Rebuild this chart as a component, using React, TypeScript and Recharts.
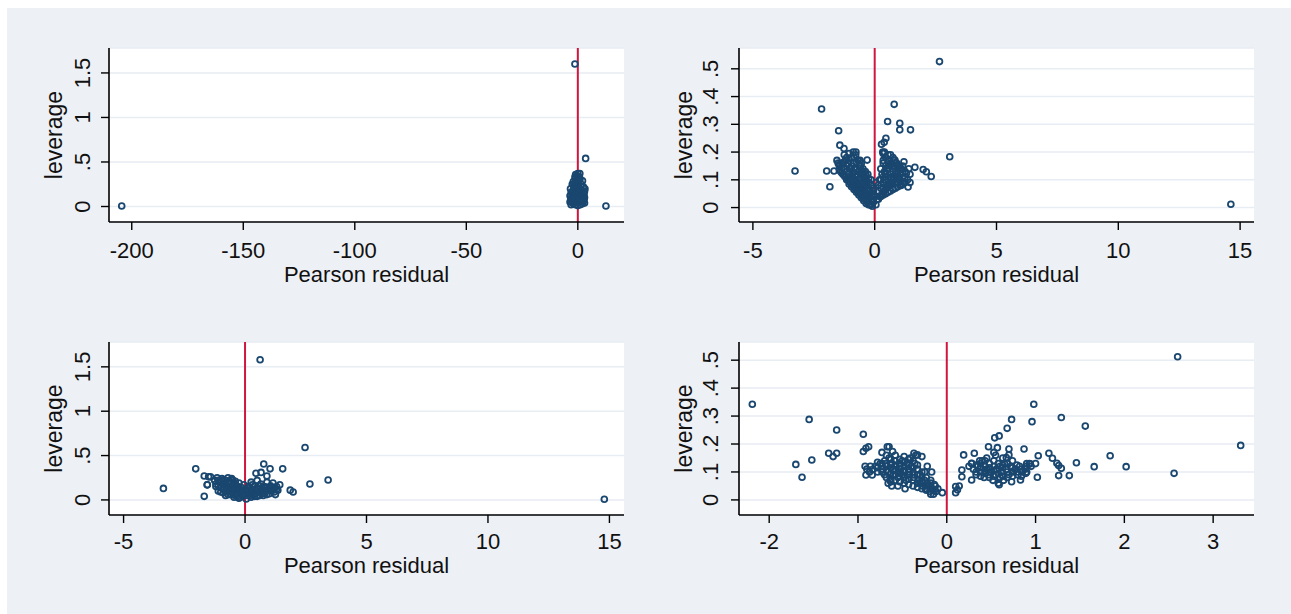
import React from 'react';
import { ScatterChart, Scatter, XAxis, YAxis, CartesianGrid, ReferenceLine } from 'recharts';

// Pearson residual vs leverage, four models (dense clusters are overplotted)
const panel1Points: [number, number][] = [
  [-204.5, 0.005], [-1.3, 1.6], [3.5, 0.54], [12.6, 0.005],
  [-3.5, 0.05], [-3.5, 0.12], [-3.3, 0.2], [-3, 0.02], [-3, 0.09], [-3, 0.16],
  [-2.5, 0.25], [-2.5, 0.06], [-2.2, 0.12], [-2, 0.03], [-2, 0.19], [-2, 0.28],
  [-1.5, 0.09], [-1.5, 0.15], [-1.3, 0.33], [-1, 0.02], [-1, 0.22], [-1, 0.36],
  [-0.5, 0.07], [-0.5, 0.12], [-0.5, 0.3], [0, 0.01], [0, 0.17], [0, 0.26], [0, 0.37],
  [0.5, 0.1], [0.5, 0.05], [0.5, 0.21], [1, 0.02], [1, 0.14], [1, 0.31], [0.9, 0.37],
  [1.5, 0.08], [1.5, 0.25], [2, 0.03], [2, 0.18], [2, 0.11], [2.1, 0.29],
  [2.5, 0.06], [2.5, 0.22], [2.8, 0.14], [3, 0.04], [3, 0.1], [3, 0.17], [3.2, 0.2],
  [-2.5, 0.14], [-2, 0.09], [-1.5, 0.04], [-1.5, 0.22], [-1, 0.12], [-1, 0.28], [-0.5, 0.18],
  [-0.5, 0.24], [0, 0.07], [0, 0.12], [0.5, 0.15], [0.5, 0.3], [1, 0.08], [1, 0.2], [1.5, 0.14],
  [1.5, 0.17], [2, 0.07], [2.5, 0.12], [-2.8, 0.1], [-3.2, 0.08], [2.8, 0.08], [0.3, 0.34],
  [-0.3, 0.33], [-1.8, 0.25],
];

const panel2Points: [number, number][] = [
  [2.66, 0.526], [14.62, 0.012], [-3.27, 0.132], [-2.18, 0.355], [0.8, 0.372],
  [0.53, 0.31], [1.03, 0.304], [1.03, 0.28], [1.47, 0.28], [-1.48, 0.277],
  [0.46, 0.25], [0.39, 0.235], [0.28, 0.228], [-1.43, 0.225], [-1.26, 0.213],
  [3.08, 0.183], [-1.97, 0.132], [-1.67, 0.132], [-1.84, 0.075],
  [2.32, 0.112], [2.12, 0.129], [1.99, 0.137], [1.65, 0.145],
  [-1.55, 0.17], [-1.5, 0.16], [-1.45, 0.15], [-1.4, 0.13], [-1.35, 0.16], [-1.3, 0.12],
  [-1.25, 0.14], [-1.2, 0.11], [-1.15, 0.13], [-1.1, 0.1], [-1.1, 0.16], [-1.05, 0.12],
  [-1.0, 0.09], [-1.0, 0.14], [-0.95, 0.18], [-0.95, 0.11], [-0.9, 0.08], [-0.9, 0.13],
  [-0.88, 0.2], [-0.85, 0.1], [-0.85, 0.16], [-0.8, 0.07], [-0.8, 0.12], [-0.78, 0.19],
  [-0.75, 0.09], [-0.75, 0.14], [-0.7, 0.06], [-0.7, 0.11], [-0.68, 0.17], [-0.65, 0.08],
  [-0.65, 0.13], [-0.6, 0.05], [-0.6, 0.1], [-0.58, 0.15], [-0.55, 0.07], [-0.55, 0.12],
  [-0.5, 0.04], [-0.5, 0.09], [-0.48, 0.14], [-0.45, 0.06], [-0.45, 0.11], [-0.4, 0.03],
  [-0.4, 0.08], [-0.38, 0.13], [-0.35, 0.05], [-0.35, 0.1], [-0.3, 0.02], [-0.3, 0.07],
  [-0.28, 0.12], [-0.25, 0.04], [-0.25, 0.09], [-0.2, 0.01], [-0.2, 0.06], [-0.15, 0.03],
  [-0.15, 0.08], [-0.1, 0.005], [-0.1, 0.05], [-0.05, 0.02], [-0.05, 0.07], [0.0, 0.04],
  [0.05, 0.01], [0.05, 0.09], [-0.77, 0.2], [-0.31, 0.171], [-0.6, 0.17], [-1.2, 0.17],
  [0.1, 0.03], [0.15, 0.06], [0.2, 0.04], [0.2, 0.1], [0.25, 0.07], [0.3, 0.05], [0.3, 0.12],
  [0.35, 0.09], [0.35, 0.16], [0.4, 0.06], [0.4, 0.13], [0.45, 0.1], [0.45, 0.18], [0.5, 0.07],
  [0.5, 0.14], [0.55, 0.11], [0.55, 0.17], [0.6, 0.08], [0.6, 0.15], [0.65, 0.12], [0.65, 0.19],
  [0.7, 0.09], [0.7, 0.16], [0.75, 0.13], [0.8, 0.1], [0.8, 0.17], [0.85, 0.14], [0.9, 0.11],
  [0.9, 0.16], [0.95, 0.13], [1.0, 0.1], [1.0, 0.15], [1.05, 0.12], [1.1, 0.14], [1.15, 0.11],
  [1.2, 0.165], [1.25, 0.13], [1.3, 0.123], [1.35, 0.1], [1.37, 0.074], [1.4, 0.14], [1.1, 0.08],
  [0.83, 0.171], [0.35, 0.195], [0.33, 0.2], [0.4, 0.2], [0.95, 0.09], [0.75, 0.07], [1.2, 0.09],
  [-1.45, 0.135], [-1.45, 0.155], [-1.35, 0.125], [-1.35, 0.145], [-1.25, 0.115], [-1.25, 0.165],
  [-1.25, 0.19], [-1.15, 0.1], [-1.15, 0.15], [-1.15, 0.18], [-1.05, 0.085], [-1.05, 0.105],
  [-1.05, 0.175], [-1.05, 0.195], [-0.95, 0.075], [-0.95, 0.095], [-0.95, 0.15], [-0.85, 0.065],
  [-0.85, 0.085], [-0.85, 0.14], [-0.85, 0.18], [-0.75, 0.055], [-0.75, 0.075], [-0.75, 0.115],
  [-0.75, 0.165], [-0.65, 0.045], [-0.65, 0.1], [-0.65, 0.15], [-0.55, 0.035], [-0.55, 0.055],
  [-0.55, 0.085], [-0.55, 0.135], [-0.55, 0.16], [-0.45, 0.025], [-0.45, 0.045], [-0.45, 0.075],
  [-0.45, 0.125], [-0.35, 0.015], [-0.35, 0.035], [-0.35, 0.085], [-0.35, 0.115], [-0.25, 0.01],
  [-0.25, 0.025], [-0.25, 0.065], [-0.25, 0.105], [-0.15, 0.01], [-0.15, 0.055], [-0.15, 0.1],
  [-0.05, 0.03], [-0.05, 0.06],
  [0.15, 0.03], [0.15, 0.08], [0.25, 0.04], [0.25, 0.1], [0.25, 0.14], [0.35, 0.045], [0.35, 0.07],
  [0.35, 0.11], [0.35, 0.17], [0.45, 0.05], [0.45, 0.08], [0.45, 0.12], [0.45, 0.15], [0.55, 0.055],
  [0.55, 0.085], [0.55, 0.14], [0.55, 0.19], [0.65, 0.06], [0.65, 0.09], [0.65, 0.105], [0.65, 0.16],
  [0.75, 0.065], [0.75, 0.11], [0.75, 0.15], [0.75, 0.18], [0.85, 0.07], [0.85, 0.09], [0.85, 0.12],
  [0.85, 0.16], [0.95, 0.075], [0.95, 0.105], [0.95, 0.145], [1.05, 0.08], [1.05, 0.1], [1.05, 0.14],
  [1.15, 0.085], [1.15, 0.125], [1.15, 0.15], [1.25, 0.09], [1.25, 0.11], [1.45, 0.09], [1.45, 0.12],
];

const panel3Points: [number, number][] = [
  [0.62, 1.58], [2.47, 0.59], [3.42, 0.225], [2.67, 0.18], [1.55, 0.35], [0.77, 0.405],
  [1.03, 0.35], [-2.03, 0.35], [-1.68, 0.27], [-1.42, 0.26], [-3.36, 0.13], [-1.68, 0.04],
  [14.79, 0.008], [1.86, 0.11], [1.98, 0.09], [-1.56, 0.17],
  [-1.25, 0.22], [-1.2, 0.15], [-1.15, 0.25], [-1.1, 0.1], [-1.05, 0.2], [-1.0, 0.14],
  [-0.95, 0.24], [-0.9, 0.08], [-0.9, 0.18], [-0.85, 0.12], [-0.8, 0.22], [-0.8, 0.05],
  [-0.75, 0.16], [-0.7, 0.1], [-0.7, 0.25], [-0.65, 0.2], [-0.6, 0.06], [-0.6, 0.14],
  [-0.55, 0.24], [-0.5, 0.1], [-0.5, 0.18], [-0.45, 0.03], [-0.45, 0.13], [-0.4, 0.21],
  [-0.35, 0.07], [-0.35, 0.16], [-0.3, 0.11], [-0.25, 0.02], [-0.25, 0.19], [-0.2, 0.08],
  [-0.15, 0.14], [-0.1, 0.04], [-0.1, 0.1], [-0.05, 0.17], [0.0, 0.07], [0.05, 0.01],
  [0.05, 0.12], [0.1, 0.05], [0.15, 0.15], [0.2, 0.09], [0.25, 0.03], [0.25, 0.2],
  [0.3, 0.12], [0.35, 0.06], [0.4, 0.16], [0.45, 0.1], [0.5, 0.04], [0.5, 0.22],
  [0.55, 0.13], [0.6, 0.08], [0.65, 0.18], [0.7, 0.11], [0.75, 0.05], [0.8, 0.15],
  [0.85, 0.09], [0.9, 0.2], [0.95, 0.12], [1.0, 0.07], [1.05, 0.16], [1.1, 0.1],
  [1.15, 0.19], [1.2, 0.13], [1.25, 0.06], [1.3, 0.15], [1.35, 0.11], [1.43, 0.17],
  [0.45, 0.3], [0.66, 0.31], [0.9, 0.27], [-1.55, 0.17], [-1.5, 0.26],
  [-1.2, 0.18], [-1.1, 0.16], [-1.1, 0.22], [-1.0, 0.09], [-1.0, 0.19], [-0.9, 0.13], [-0.9, 0.22],
  [-0.8, 0.09], [-0.8, 0.17], [-0.7, 0.06], [-0.7, 0.19], [-0.6, 0.1], [-0.6, 0.2], [-0.5, 0.06],
  [-0.5, 0.14], [-0.5, 0.22], [-0.4, 0.05], [-0.4, 0.11], [-0.4, 0.17], [-0.3, 0.05], [-0.3, 0.15],
  [-0.2, 0.03], [-0.2, 0.12], [-0.1, 0.07], [0.1, 0.09], [0.2, 0.05], [0.2, 0.14], [0.3, 0.07],
  [0.3, 0.17], [0.4, 0.04], [0.4, 0.1], [0.5, 0.13], [0.6, 0.05], [0.6, 0.16], [0.7, 0.07],
  [0.7, 0.14], [0.8, 0.1], [0.9, 0.06], [0.9, 0.14], [1.0, 0.11], [1.1, 0.14], [1.2, 0.09],
  [1.3, 0.12],
];

const panel4Points: [number, number][] = [
  [-2.19, 0.342], [2.6, 0.512], [3.31, 0.195], [2.56, 0.095], [-1.55, 0.288], [-1.7, 0.127],
  [-1.63, 0.081], [-1.52, 0.143], [-1.24, 0.25], [-1.33, 0.167], [-1.28, 0.155], [-1.24, 0.167],
  [-0.94, 0.235], [-0.94, 0.173], [-0.91, 0.185], [-0.88, 0.19], [-0.91, 0.089], [-0.84, 0.089],
  [-0.92, 0.12], [-0.9, 0.11], [-0.87, 0.1],
  [0.98, 0.342], [0.96, 0.28], [0.73, 0.288], [0.68, 0.256], [1.29, 0.295], [1.56, 0.264],
  [0.54, 0.222], [0.59, 0.229], [0.87, 0.182], [0.7, 0.182], [0.7, 0.161], [0.67, 0.152],
  [1.03, 0.158], [1.15, 0.167], [1.19, 0.149], [1.24, 0.131], [1.26, 0.123], [1.29, 0.113],
  [1.26, 0.087], [1.38, 0.087], [1.46, 0.133], [1.66, 0.119], [1.84, 0.158], [2.02, 0.119],
  [1.02, 0.081],
  [-0.86, 0.12], [-0.83, 0.11], [-0.8, 0.12], [-0.78, 0.1], [-0.75, 0.13], [-0.72, 0.11],
  [-0.7, 0.14], [-0.7, 0.09], [-0.68, 0.12], [-0.66, 0.1], [-0.65, 0.15], [-0.64, 0.07],
  [-0.62, 0.13], [-0.6, 0.11], [-0.6, 0.09], [-0.58, 0.14], [-0.57, 0.12], [-0.55, 0.1],
  [-0.55, 0.08], [-0.53, 0.13], [-0.52, 0.11], [-0.5, 0.09], [-0.5, 0.14], [-0.48, 0.12],
  [-0.47, 0.1], [-0.46, 0.07], [-0.45, 0.13], [-0.43, 0.11], [-0.42, 0.09], [-0.41, 0.15],
  [-0.4, 0.12], [-0.38, 0.1], [-0.37, 0.08], [-0.36, 0.13], [-0.35, 0.16], [-0.33, 0.11],
  [-0.32, 0.07], [-0.3, 0.09], [-0.3, 0.06], [-0.28, 0.08], [-0.27, 0.05], [-0.25, 0.07],
  [-0.24, 0.04], [-0.22, 0.06], [-0.2, 0.05], [-0.19, 0.03], [-0.18, 0.07], [-0.16, 0.04],
  [-0.15, 0.02], [-0.13, 0.05], [-0.12, 0.03], [-0.1, 0.04], [-0.17, 0.1], [-0.05, 0.026],
  [-0.66, 0.06], [-0.62, 0.05], [-0.47, 0.04], [-0.63, 0.065], [-0.73, 0.17], [-0.67, 0.19],
  [-0.65, 0.19], [-0.61, 0.173], [-0.37, 0.167], [-0.33, 0.161], [-0.28, 0.155], [-0.22, 0.12],
  [-0.25, 0.1], [-0.55, 0.05],
  [-0.78, 0.115], [-0.78, 0.135], [-0.73, 0.1], [-0.73, 0.12], [-0.73, 0.13], [-0.68, 0.08],
  [-0.68, 0.105], [-0.68, 0.13], [-0.68, 0.16], [-0.63, 0.075], [-0.63, 0.095], [-0.63, 0.115],
  [-0.63, 0.125], [-0.63, 0.145], [-0.58, 0.07], [-0.58, 0.09], [-0.58, 0.105], [-0.58, 0.125],
  [-0.58, 0.16], [-0.53, 0.065], [-0.53, 0.085], [-0.53, 0.095], [-0.53, 0.12], [-0.53, 0.145],
  [-0.48, 0.06], [-0.48, 0.08], [-0.48, 0.105], [-0.48, 0.135], [-0.48, 0.155], [-0.43, 0.055],
  [-0.43, 0.075], [-0.43, 0.1], [-0.43, 0.125], [-0.43, 0.145], [-0.38, 0.05], [-0.38, 0.07],
  [-0.38, 0.09], [-0.38, 0.115], [-0.38, 0.14], [-0.33, 0.045], [-0.33, 0.06], [-0.33, 0.09],
  [-0.33, 0.125], [-0.28, 0.04], [-0.28, 0.065], [-0.28, 0.1], [-0.23, 0.035], [-0.23, 0.05],
  [-0.23, 0.08], [-0.18, 0.02], [-0.18, 0.045], [-0.18, 0.06], [-0.14, 0.035], [-0.14, 0.055],
  [0.25, 0.12], [0.28, 0.13], [0.3, 0.11], [0.33, 0.09], [0.35, 0.12], [0.38, 0.1], [0.4, 0.14],
  [0.42, 0.08], [0.43, 0.12], [0.45, 0.11], [0.47, 0.09], [0.48, 0.13], [0.5, 0.1], [0.52, 0.07],
  [0.53, 0.12], [0.55, 0.09], [0.56, 0.11], [0.58, 0.06], [0.6, 0.08], [0.6, 0.12], [0.62, 0.1],
  [0.64, 0.07], [0.65, 0.13], [0.67, 0.11], [0.7, 0.09], [0.72, 0.12], [0.73, 0.065], [0.75, 0.1],
  [0.77, 0.11], [0.8, 0.09], [0.82, 0.12], [0.83, 0.071], [0.85, 0.1], [0.88, 0.11], [0.9, 0.12],
  [0.93, 0.13], [0.95, 0.12], [1.0, 0.13], [0.59, 0.054], [0.89, 0.095], [0.94, 0.129],
  [0.47, 0.19], [0.57, 0.187], [0.19, 0.161], [0.31, 0.167], [0.28, 0.131], [0.28, 0.071],
  [0.17, 0.107], [0.17, 0.083], [0.1, 0.048], [0.1, 0.026], [0.12, 0.036], [0.14, 0.05],
  [0.37, 0.14], [0.45, 0.15], [0.55, 0.16], [0.63, 0.15], [0.53, 0.17],
  [0.33, 0.1], [0.33, 0.125], [0.38, 0.085], [0.38, 0.115], [0.38, 0.13], [0.43, 0.095],
  [0.43, 0.105], [0.43, 0.14], [0.48, 0.08], [0.48, 0.1], [0.48, 0.115], [0.53, 0.085],
  [0.53, 0.105], [0.53, 0.14], [0.58, 0.075], [0.58, 0.095], [0.58, 0.13], [0.63, 0.085],
  [0.63, 0.115], [0.63, 0.125], [0.68, 0.08], [0.68, 0.1], [0.68, 0.13], [0.74, 0.085],
  [0.74, 0.115], [0.74, 0.14], [0.79, 0.1], [0.79, 0.125], [0.84, 0.085], [0.84, 0.11],
  [0.9, 0.1], [0.9, 0.13],
];

const xTicks1 = [-200, -150, -100, -50, 0];
const xTicks23 = [-5, 0, 5, 10, 15];
const xTicks4 = [-2, -1, 0, 1, 2, 3];
const yTicksBig = [0, 0.5, 1, 1.5];
const yTicksSmall = [0, 0.1, 0.2, 0.3, 0.4, 0.5];

const FONT = '"Liberation Sans", Arial, Helvetica, sans-serif';
const NAVY = '#1a476f';
const TEXT = '#111';

const fmtY = (v: number) => (v === 0 ? '0' : String(v).replace(/^0\./, '.'));

const Ring = (props: any) => {
  const { cx, cy } = props;
  if (cx == null || cy == null) return null;
  return <circle cx={cx} cy={cy} r={2.9} fill="none" stroke={NAVY} strokeWidth={1.8} />;
};

interface PanelProps {
  left: number;
  top: number;
  height: number;
  points: [number, number][];
  xDomain: [number, number];
  yDomain: [number, number];
  xTicks: number[];
  yTicks: number[];
  tickOff: number;
  titleOff: number;
  yTickOff: number;
}

const TICK = 8;

const Panel: React.FC<PanelProps> = ({
  left, top, height, points, xDomain, yDomain, xTicks, yTicks, tickOff, titleOff, yTickOff,
}) => {
  const data = points.map(([x, y]) => ({ x, y }));

  const XTick = (p: any) => (
    <text x={p.x} y={p.y - TICK + tickOff} textAnchor="middle" fontSize={22} fontFamily={FONT} fill={TEXT}>
      {p.payload.value}
    </text>
  );

  const YTick = (p: any) => {
    const bx = p.x + TICK - yTickOff;
    return (
      <text
        x={bx}
        y={p.y}
        transform={`rotate(-90, ${bx}, ${p.y})`}
        textAnchor="middle"
        fontSize={22}
        fontFamily={FONT}
        fill={TEXT}
      >
        {fmtY(p.payload.value)}
      </text>
    );
  };

  const XTitle = (p: any) => {
    const vb = p.viewBox;
    return (
      <text x={vb.x + vb.width / 2} y={vb.y + titleOff} textAnchor="middle" fontSize={22} fontFamily={FONT} fill={TEXT}>
        Pearson residual
      </text>
    );
  };

  const YTitle = (p: any) => {
    const vb = p.viewBox;
    const bx = vb.x + vb.width - 47;
    const cy = vb.y + vb.height / 2;
    return (
      <text x={bx} y={cy} transform={`rotate(-90, ${bx}, ${cy})`} textAnchor="middle" fontSize={23} fontFamily={FONT} fill={TEXT}>
        leverage
      </text>
    );
  };

  return (
    <div style={{ position: 'absolute', left, top }}>
      <ScatterChart width={645} height={height} margin={{ top: 48, right: 21, bottom: 0, left: 0 }}>
        <CartesianGrid vertical={false} fill="#ffffff" stroke="#e7edf3" strokeWidth={1.5} />
        <XAxis
          type="number"
          dataKey="x"
          domain={xDomain}
          ticks={xTicks}
          allowDataOverflow
          height={78}
          tickSize={TICK}
          tickMargin={0}
          axisLine={{ stroke: '#000', strokeWidth: 1.6 }}
          tickLine={{ stroke: '#000', strokeWidth: 1.4 }}
          tick={XTick}
          label={{ content: XTitle }}
        />
        <YAxis
          type="number"
          dataKey="y"
          domain={yDomain}
          ticks={yTicks}
          allowDataOverflow
          width={109}
          tickSize={TICK}
          tickMargin={0}
          axisLine={{ stroke: '#000', strokeWidth: 1.6 }}
          tickLine={{ stroke: '#000', strokeWidth: 1.4 }}
          tick={YTick}
          label={{ content: YTitle }}
        />
        <ReferenceLine x={0} stroke="#d0163e" strokeWidth={2} />
        <Scatter data={data} shape={Ring} isAnimationActive={false} />
      </ScatterChart>
    </div>
  );
};

export default function App() {
  return (
    <div style={{ position: 'absolute', left: 0, top: 0, width: 1291, height: 614, background: '#ffffff', overflow: 'hidden' }}>
      <div style={{ position: 'absolute', left: 7, top: 8, right: 0, bottom: 0, background: '#edf0f5' }} />
      <Panel left={0} top={0} height={300} points={panel1Points} xDomain={[-210.2, 20.7]} yDomain={[-0.174, 1.78]}
        xTicks={xTicks1} yTicks={yTicksBig} tickOff={35.5} titleOff={59.5} yTickOff={19} />
      <Panel left={630} top={0} height={300} points={panel2Points} xDomain={[-5.57, 15.57]} yDomain={[-0.052, 0.575]}
        xTicks={xTicks23} yTicks={yTicksSmall} tickOff={35.5} titleOff={59.5} yTickOff={21} />
      <Panel left={0} top={294} height={299} points={panel3Points} xDomain={[-5.6, 15.6]} yDomain={[-0.17, 1.78]}
        xTicks={xTicks23} yTicks={yTicksBig} tickOff={33.5} titleOff={57.5} yTickOff={19} />
      <Panel left={630} top={294} height={299} points={panel4Points} xDomain={[-2.34, 3.46]} yDomain={[-0.054, 0.565]}
        xTicks={xTicks4} yTicks={yTicksSmall} tickOff={33.5} titleOff={57.5} yTickOff={21} />
    </div>
  );
}
